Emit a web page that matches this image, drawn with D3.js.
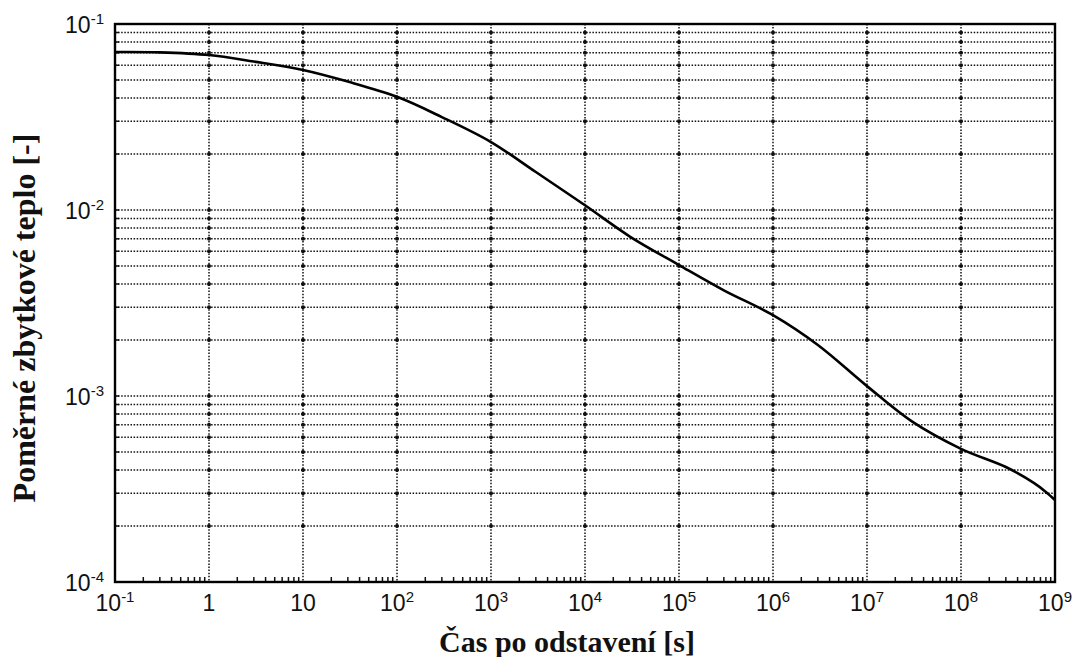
<!DOCTYPE html>
<html>
<head>
<meta charset="utf-8">
<script src="https://cdn.jsdelivr.net/npm/d3@7"></script>
<style>
    body { margin: 0; background: #fff; }
    .tick-label { font-family: "Liberation Sans", Arial, sans-serif; font-size: 23px; fill: #111; }
    .axis-title { font-family: "Liberation Serif", "Times New Roman", serif; font-weight: bold; font-size: 30px; fill: #111; }
    .grid { stroke: #111; stroke-width: 1.5; stroke-dasharray: 1.5,1.6; fill: none; }
</style>
</head>
<body>
<div id="chart"></div>
<script>
// time after shutdown [s] and relative residual heat [-]
var times = [0.1, 0.3, 1, 3, 10, 30, 100, 300, 1e3, 3e3, 1e4, 3e4, 1e5, 3e5, 1e6, 3e6, 1e7, 3e7, 1e8, 3e8, 6e8, 8e8, 1e9];
var heat = [0.0707, 0.0704, 0.0681, 0.0628, 0.0566, 0.049, 0.0406, 0.0316, 0.0232, 0.016, 0.0106, 0.0072,
    0.00506, 0.0037, 0.00272, 0.00188, 0.00113, 0.00073, 0.00052, 0.000415, 0.00034, 0.000305, 0.000276];

// tick labels: [base, superscript]
var xTicks = [1e-1, 1, 10, 1e2, 1e3, 1e4, 1e5, 1e6, 1e7, 1e8, 1e9];
var xTickLabels = [["10", "-1"], ["1", ""], ["10", ""], ["10", "2"], ["10", "3"], ["10", "4"],
    ["10", "5"], ["10", "6"], ["10", "7"], ["10", "8"], ["10", "9"]];
var yTicks = [1e-1, 1e-2, 1e-3, 1e-4];
var yTickLabels = [["10", "-1"], ["10", "-2"], ["10", "-3"], ["10", "-4"]];

var xTitle = "Čas po odstavení [s]";
var yTitle = "Poměrné zbytkové teplo [-]";

var margin = {top: 24, right: 22, bottom: 75, left: 115};
var width = 1077 - margin.left - margin.right;
var height = 657 - margin.top - margin.bottom;

var svg = d3.select("#chart").append("svg")
    .attr("width", 1077)
    .attr("height", 657);

var g = svg.append("g")
    .attr("transform", "translate(" + margin.left + "," + margin.top + ")");

var x = d3.scaleLog().domain([1e-1, 1e9]).range([0, width]);
var y = d3.scaleLog().domain([1e-4, 1e-1]).range([height, 0]);

// minor values for each decade
function minors(lo, hi) {
    var out = [];
    for (var e = lo; e < hi; e++) {
        for (var m = 2; m <= 9; m++) out.push(m * Math.pow(10, e));
    }
    return out;
}
var xMinor = minors(-1, 9);
var yMinor = minors(-4, -1);
var yGrid = yMinor.concat([1e-3, 1e-2]);
var xGrid = xTicks.slice(1, -1);

// horizontal grid
g.selectAll(".hgrid")
    .data(yGrid)
    .enter().append("line")
    .attr("class", "grid hgrid")
    .attr("x1", 0).attr("x2", width)
    .attr("y1", function(d){ return y(d); })
    .attr("y2", function(d){ return y(d); });

// vertical grid
g.selectAll(".vgrid")
    .data(xGrid)
    .enter().append("line")
    .attr("class", "grid vgrid")
    .attr("y1", 0).attr("y2", height)
    .attr("x1", function(d){ return x(d); })
    .attr("x2", function(d){ return x(d); });

// dots where the grid lines cross
var crossings = [];
xGrid.forEach(function(a){
    yGrid.forEach(function(b){ crossings.push([a, b]); });
});
g.selectAll(".cross")
    .data(crossings)
    .enter().append("circle")
    .attr("class", "cross")
    .attr("cx", function(d){ return x(d[0]); })
    .attr("cy", function(d){ return y(d[1]); })
    .attr("r", 2)
    .attr("fill", "#111");

// minor ticks, pointing inward
g.selectAll(".xminor")
    .data(xMinor)
    .enter().append("line")
    .attr("x1", function(d){ return x(d); })
    .attr("x2", function(d){ return x(d); })
    .attr("y1", height).attr("y2", height - 5)
    .attr("stroke", "#111").attr("stroke-width", 1.5);

g.selectAll(".yminor")
    .data(yGrid)
    .enter().append("line")
    .attr("y1", function(d){ return y(d); })
    .attr("y2", function(d){ return y(d); })
    .attr("x1", 0).attr("x2", 4)
    .attr("stroke", "#111").attr("stroke-width", 1.5);

// curve
var line = d3.line()
    .x(function(d){ return x(d[0]); })
    .y(function(d){ return y(d[1]); })
    .curve(d3.curveCatmullRom.alpha(0.5));

g.append("path")
    .datum(d3.zip(times, heat))
    .attr("d", line)
    .attr("fill", "none")
    .attr("stroke", "#000")
    .attr("stroke-width", 2.6);

// frame
g.append("rect")
    .attr("x", 0).attr("y", 0)
    .attr("width", width).attr("height", height)
    .attr("fill", "none")
    .attr("stroke", "#000")
    .attr("stroke-width", 2.4);

// tick labels
function addLabel(sel, lab) {
    sel.append("tspan").text(lab[0]);
    if (lab[1] !== "") {
        sel.append("tspan")
            .attr("dy", -9)
            .style("font-size", "15px")
            .text(lab[1]);
    }
}

xTicks.forEach(function(d, i){
    var t = g.append("text")
        .attr("class", "tick-label")
        .attr("x", x(d))
        .attr("y", height + 29)
        .attr("text-anchor", "middle");
    addLabel(t, xTickLabels[i]);
});

yTicks.forEach(function(d, i){
    var t = g.append("text")
        .attr("class", "tick-label")
        .attr("x", -11)
        .attr("y", y(d) + 9)
        .attr("text-anchor", "end");
    addLabel(t, yTickLabels[i]);
});

// axis titles
svg.append("text")
    .attr("class", "axis-title")
    .attr("x", 567)
    .attr("y", 652)
    .attr("text-anchor", "middle")
    .text(xTitle);

svg.append("text")
    .attr("class", "axis-title")
    .attr("transform", "translate(35,318) rotate(-90)")
    .attr("text-anchor", "middle")
    .style("font-size", "32px")
    .text(yTitle);
</script>
</body>
</html>
